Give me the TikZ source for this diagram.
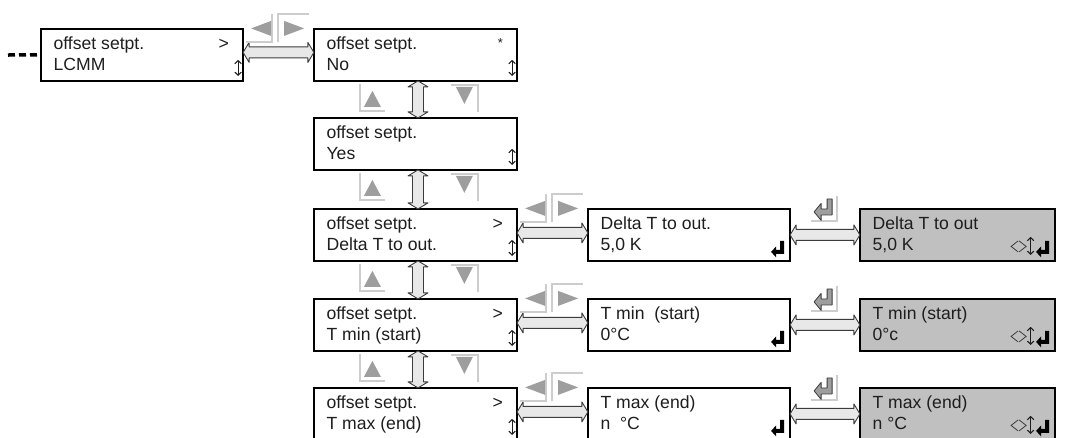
\documentclass[tikz,border=0pt]{standalone}
\usepackage{fontspec}
\setmainfont{Liberation Sans}
\usetikzlibrary{calc,arrows.meta}
\definecolor{scrgray}{RGB}{192,192,192}
\definecolor{arrfill}{RGB}{232,232,232}
\definecolor{arrline}{RGB}{60,60,60}
\definecolor{navtri}{RGB}{158,158,158}
\definecolor{navline}{RGB}{205,205,205}
\definecolor{txtcol}{RGB}{30,30,30}
\tikzset{
  screen/.style={draw=black, line width=1.8pt, minimum height=52pt, inner sep=0pt, outer sep=0pt, anchor=north west, fill=white},
  screengray/.style={screen, fill=scrgray},
  stxt/.style={inner sep=0pt, anchor=base west, font=\fontsize{17.6}{20}\selectfont, text=txtcol},
  smark/.style={inner sep=0pt, anchor=base east, font=\fontsize{17.6}{20}\selectfont, text=txtcol},
  sstar/.style={inner sep=0pt, anchor=base east, font=\fontsize{13}{15}\selectfont, text=txtcol},
  bigarrow/.style={draw=arrline, fill=arrfill, line width=0.9pt, line join=round},
  updn/.style={line width=1.1pt, draw=txtcol, {Straight Barb[length=3pt,width=6.5pt]}-{Straight Barb[length=3pt,width=6.5pt]}},
  navtriangle/.style={fill=navtri},
  navborder/.style={draw=navline, line width=1.6pt},
  enterblack/.style={fill=black},
  entergray/.style={fill=navtri, draw=arrline, line width=0.8pt, line join=round},
  chevron/.style={draw=arrline, line width=0.8pt},
  leaddash/.style={draw=black, line width=3.5pt, dash pattern=on 7pt off 4pt}
}
% screen: name, x, y, width, style, line 1, line 2
\newcommand\scrbox[7]{%
  \node[#5, minimum width=#4pt] (#1) at (#2,#3) {};
  \node[stxt] (#1-a) at ([xshift=12.5pt,yshift=-21pt]#1.north west) {#6};
  \node[stxt] (#1-b) at ([xshift=12.5pt,yshift=-42pt]#1.north west) {#7};
}
\newcommand\scrgt[1]{\node[smark] (#1-gt) at ([xshift=-14pt,yshift=-21pt]#1.north east) {>};}
\newcommand\scrud[1]{\draw[updn] ([xshift=-5pt,yshift=21pt]#1.south east) -- ([xshift=-5pt,yshift=5pt]#1.south east);}
\newcommand\blkenter[1]{%
  \begin{scope}[shift={(#1.south east)}]
    \fill[enterblack] (-19,-9) -- (-14,-14.5) -- (-14,-11) -- (-10,-11) -- (-10,-20) -- (-6,-20)
      -- (-6,-7) -- (-14,-7) -- (-14,-3.5) -- cycle;
  \end{scope}}
\newcommand\editicons[1]{%
  \begin{scope}[shift={(#1.south east)}]
    \draw[chevron] (-37,-20) -- (-44,-14.5) -- (-37,-9);
    \draw[chevron] (-36,-20) -- (-29,-14.5) -- (-36,-9);
    \draw[updn] (-24.5,-24) -- (-24.5,-6);
    \fill[enterblack] (-19,-9) -- (-14,-14.5) -- (-14,-11) -- (-10,-11) -- (-10,-20) -- (-6,-20)
      -- (-6,-7) -- (-14,-7) -- (-14,-3.5) -- cycle;
  \end{scope}}
% left/right navigation icon, relative to the north east corner of the left screen
\newcommand\navlr[1]{%
  \begin{scope}[shift={(#1.north east)}]
    \draw[navborder] (3,13) -- (29,13) -- (29,-15);
    \draw[navborder] (35,13) -- (35,-15) -- (66,-15);
    \fill[navtriangle] (8,-0.5) -- (28,-8) -- (28,7) -- cycle;
    \fill[navtriangle] (61,-0.5) -- (41,-8) -- (41,7) -- cycle;
  \end{scope}}
% up/down navigation icon, relative to the south west corner of the upper screen
\newcommand\navud[1]{%
  \begin{scope}[shift={(#1.south west)}]
    \draw[navborder] (46,3) -- (46,30) -- (71,30);
    \fill[navtriangle] (58.5,10) -- (50,26) -- (67,26) -- cycle;
    \draw[navborder] (137,4) -- (164,4) -- (164,31);
    \fill[navtriangle] (150.5,23) -- (142,6) -- (159,6) -- cycle;
  \end{scope}}
% enter navigation icon, relative to the north east corner of the left screen
\newcommand\naventer[1]{%
  \begin{scope}[shift={(#1.north east)}]
    \draw[navborder] (21,12) -- (47,12) -- (47,-13);
    \draw[entergray] (24,3) -- (31,-5.5) -- (31,0) -- (37,0) -- (37,-10) -- (42,-10) -- (42,6)
      -- (31,6) -- (31,11.5) -- cycle;
  \end{scope}}
\newcommand\harrow[3]{%
  \draw[bigarrow] let \p1=(#1.east), \p2=(#2.west) in
    (\x1,\y1+#3pt) -- (\x1+6pt,\y1+#3pt+10pt) -- (\x1+6pt,\y1+#3pt+5.5pt) -- (\x2-6pt,\y1+#3pt+5.5pt)
    -- (\x2-6pt,\y1+#3pt+10pt) -- (\x2,\y1+#3pt) -- (\x2-6pt,\y1+#3pt-10pt) -- (\x2-6pt,\y1+#3pt-5.5pt)
    -- (\x1+6pt,\y1+#3pt-5.5pt) -- (\x1+6pt,\y1+#3pt-10pt) -- cycle;}
\newcommand\varrow[2]{%
  \draw[bigarrow] let \p1=(#1.south), \p2=(#2.north) in
    (\x1+2.5pt,\y1) -- (\x1-7.5pt,\y1-6pt) -- (\x1-3pt,\y1-6pt) -- (\x1-3pt,\y2+6pt)
    -- (\x1-7.5pt,\y2+6pt) -- (\x1+2.5pt,\y2) -- (\x1+12.5pt,\y2+6pt) -- (\x1+8pt,\y2+6pt)
    -- (\x1+8pt,\y1-6pt) -- (\x1+12.5pt,\y1-6pt) -- cycle;}
\begin{document}
\begin{tikzpicture}[x=1pt,y=-1pt]
\useasboundingbox (0,0) rectangle (1066,437);
\clip (0,0) rectangle (1066,437);
% screens
\scrbox{lcmm}{40.9}{28.9}{202.2}{screen}{offset setpt.}{LCMM}
\scrbox{no}{313.9}{28.9}{203.2}{screen}{offset setpt.}{No}
\scrbox{yes}{313.9}{117.9}{203.2}{screen}{offset setpt.}{Yes}
\scrbox{dmenu}{313.9}{208.9}{203.2}{screen}{offset setpt.}{Delta T to out.}
\scrbox{tminmenu}{313.9}{298.9}{203.2}{screen}{offset setpt.}{T min (start)}
\scrbox{tmaxmenu}{313.9}{387.9}{203.2}{screen}{offset setpt.}{T max (end)}
\scrbox{dval}{587.9}{208.9}{202.2}{screen}{Delta T to out.}{5,0 K}
\scrbox{tminval}{587.9}{298.9}{202.2}{screen}{T min~\ (start)}{0°C}
\scrbox{tmaxval}{587.9}{387.9}{202.2}{screen}{T max (end)}{n~\ °C}
\scrbox{dedit}{859.9}{208.9}{195.2}{screengray}{Delta T to out}{5,0 K}
\scrbox{tminedit}{859.9}{298.9}{195.2}{screengray}{T min (start)}{0°c}
\scrbox{tmaxedit}{859.9}{387.9}{195.2}{screengray}{T max (end)}{n °C}
% marks in the screens
\scrgt{lcmm}\scrud{lcmm}
\node[sstar] (no-star) at ([xshift=-14pt,yshift=-19pt]no.north east) {*};
\scrud{no}
\scrud{yes}
\scrgt{dmenu}\scrud{dmenu}
\scrgt{tminmenu}\scrud{tminmenu}
\scrgt{tmaxmenu}\scrud{tmaxmenu}
\blkenter{dval}\blkenter{tminval}\blkenter{tmaxval}
\editicons{dedit}\editicons{tminedit}\editicons{tmaxedit}
% lead-in
\coordinate (lead) at (8,55);
\draw[leaddash] (lead) -- ([xshift=-3pt]lcmm.west);
% connectors
\harrow{lcmm}{no}{2.5}
\harrow{dmenu}{dval}{2}
\harrow{tminmenu}{tminval}{2}
\harrow{tmaxmenu}{tmaxval}{2}
\harrow{dval}{dedit}{0}
\harrow{tminval}{tminedit}{0}
\harrow{tmaxval}{tmaxedit}{0}
\varrow{no}{yes}
\varrow{yes}{dmenu}
\varrow{dmenu}{tminmenu}
\varrow{tminmenu}{tmaxmenu}
% navigation icons
\navlr{lcmm}\navlr{dmenu}\navlr{tminmenu}\navlr{tmaxmenu}
\navud{no}\navud{yes}\navud{dmenu}\navud{tminmenu}
\naventer{dval}\naventer{tminval}\naventer{tmaxval}
\end{tikzpicture}
\end{document}
